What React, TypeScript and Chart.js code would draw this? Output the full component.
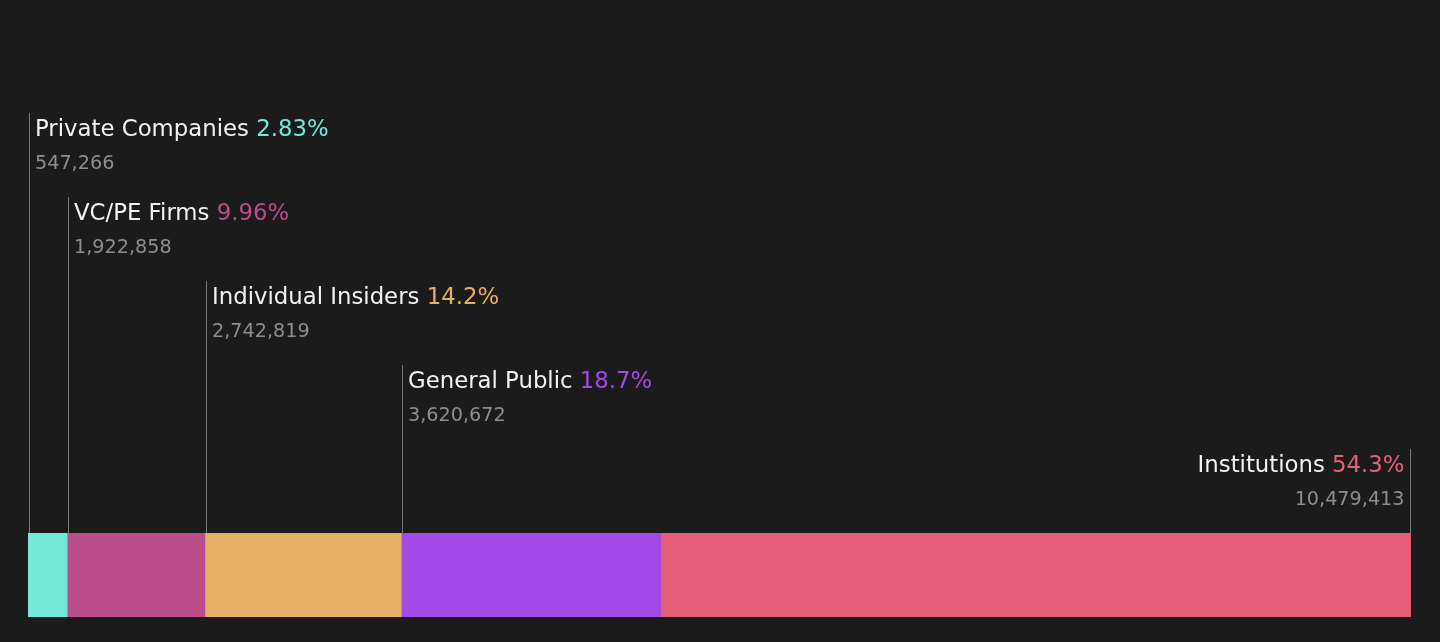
import React, { useEffect, useRef } from "react";
import { Chart, registerables } from "chart.js";

Chart.register(...registerables);

const categories = ["Private Companies", "VC/PE Firms", "Individual Insiders", "General Public", "Institutions"];
const shares = [547266, 1922858, 2742819, 3620672, 10479413];
const colors = ["#72e8d6", "#bc4d8b", "#e6b064", "#a24ae8", "#e65f7a"];

const BG = "#1b1b1b";
const FONT = '"DejaVu Sans", sans-serif';

const total = shares.reduce((a, b) => a + b, 0);

const labelPlugin = {
  id: "ownershipLabels",
  afterDatasetsDraw(chart: any) {
    const ctx = chart.ctx;
    const n = chart.data.datasets.length;
    const top = chart.chartArea.top;
    ctx.save();
    for (let i = 0; i < n; i++) {
      const meta = chart.getDatasetMeta(i);
      const el: any = meta.data[0];
      if (!el) continue;
      const left = Math.min(el.x, el.base);
      const right = Math.max(el.x, el.base);
      const isLast = i === n - 1;
      const lx = isLast ? Math.round(right) - 0.5 : Math.round(left) + 1.5;
      const lineTop = top - (n - i) * 84;
      ctx.strokeStyle = "#7a7a7a";
      ctx.lineWidth = 1;
      ctx.beginPath();
      ctx.moveTo(lx, lineTop);
      ctx.lineTo(lx, top);
      ctx.stroke();

      const name = categories[i] + " ";
      const pct = ((shares[i] / total) * 100).toPrecision(3) + "%";
      const num = shares[i].toLocaleString("en-US");
      ctx.font = `22.8px ${FONT}`;
      ctx.textBaseline = "alphabetic";
      const nameW = ctx.measureText(name).width;
      const pctW = ctx.measureText(pct).width;
      let tx: number;
      if (isLast) tx = lx - 6 - nameW - pctW;
      else tx = lx + 5.5;
      ctx.textAlign = "left";
      ctx.fillStyle = "#f2f2f2";
      ctx.fillText(name, tx, lineTop + 22.5);
      ctx.fillStyle = colors[i];
      ctx.fillText(pct, tx + nameW, lineTop + 22.5);

      ctx.font = `19.2px ${FONT}`;
      ctx.fillStyle = "#8e8e8e";
      if (isLast) {
        ctx.textAlign = "right";
        ctx.fillText(num, lx - 6, lineTop + 55.5);
      } else {
        ctx.textAlign = "left";
        ctx.fillText(num, lx + 5.5, lineTop + 55.5);
      }
    }
    ctx.restore();
  },
};

export default function App() {
  const ref = useRef<HTMLCanvasElement | null>(null);
  useEffect(() => {
    document.body.style.margin = "0";
    document.body.style.background = BG;
    if (!ref.current) return;
    const chart = new Chart(ref.current, {
      type: "bar",
      data: {
        labels: ["Ownership"],
        datasets: categories.map((c, i) => ({
          label: c,
          data: [shares[i]],
          backgroundColor: colors[i],
          borderWidth: 0,
          barPercentage: 1,
          categoryPercentage: 1,
        })),
      },
      options: {
        indexAxis: "y",
        animation: false,
        responsive: false,
        maintainAspectRatio: false,
        layout: { padding: { left: 28, right: 29, top: 533, bottom: 25 } },
        scales: {
          x: { stacked: true, display: false, min: 0, max: total },
          y: { stacked: true, display: false },
        },
        plugins: { legend: { display: false }, tooltip: { enabled: false } },
      },
      plugins: [labelPlugin],
    });
    return () => chart.destroy();
  }, []);
  return (
    <div style={{ width: 1440, height: 642, background: BG }}>
      <canvas ref={ref} width={1440} height={642} style={{ display: "block", width: 1440, height: 642 }} />
    </div>
  );
}
